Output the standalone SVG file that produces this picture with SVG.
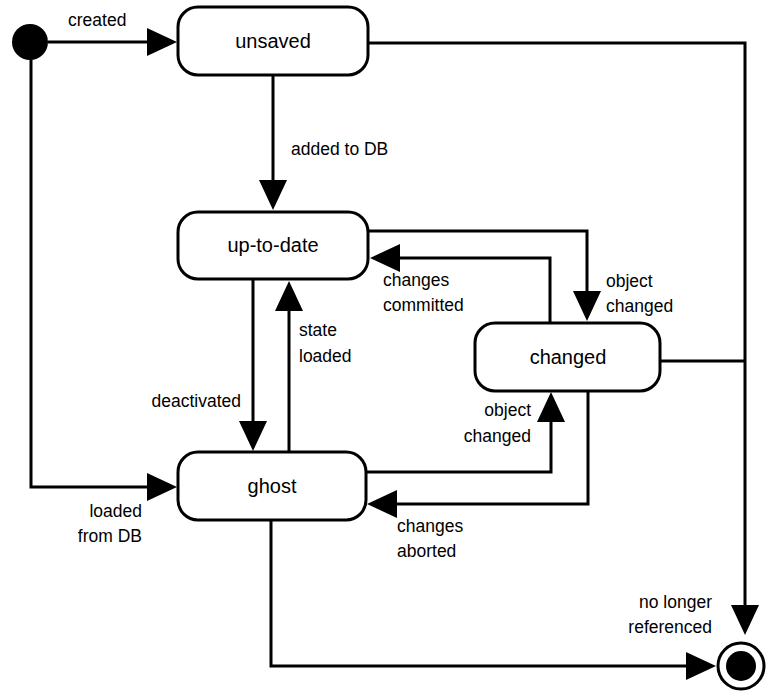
<svg xmlns="http://www.w3.org/2000/svg" width="767" height="696" viewBox="0 0 767 696">
  <style>
    .state rect { fill: #fff; stroke: #000; stroke-width: 3; }
    .state text { font-family: "Liberation Sans", Arial, sans-serif; font-size: 20px; text-anchor: middle; fill: #000; }
    .edge { fill: none; stroke: #000; stroke-width: 3; }
    .lbl { font-family: "Liberation Sans", Arial, sans-serif; font-size: 17.5px; fill: #000; }
    .end { text-anchor: end; }
  </style>
  <defs>
    <marker id="arrow" markerUnits="userSpaceOnUse" markerWidth="30" markerHeight="28" refX="0" refY="14" orient="auto" overflow="visible">
      <path d="M0,0 L30,14 L0,28 Z" fill="#000"/>
    </marker>
  </defs>

  <!-- transitions -->
  <g id="connectors">
    <path class="edge" d="M48,42 H147" marker-end="url(#arrow)"/>
    <path class="edge" d="M31,58 V487 H147" marker-end="url(#arrow)"/>
    <path class="edge" d="M368,43 H745 V605" marker-end="url(#arrow)"/>
    <path class="edge" d="M273,75 V180" marker-end="url(#arrow)"/>
    <path class="edge" d="M368,231 H587 V291" marker-end="url(#arrow)"/>
    <path class="edge" d="M550,323 V258 H400" marker-end="url(#arrow)"/>
    <path class="edge" d="M253,279 V421" marker-end="url(#arrow)"/>
    <path class="edge" d="M289,452 V311" marker-end="url(#arrow)"/>
    <path class="edge" d="M366,472 H551 V422" marker-end="url(#arrow)"/>
    <path class="edge" d="M588,391 V504 H397" marker-end="url(#arrow)"/>
    <path class="edge" d="M660,361 H745"/>
    <path class="edge" d="M271,520 V666 H686" marker-end="url(#arrow)"/>

    <text class="lbl" x="68" y="26">created</text>
    <text class="lbl" x="291" y="155">added to DB</text>
    <text class="lbl" x="383" y="286">changes</text>
    <text class="lbl" x="383" y="311">committed</text>
    <text class="lbl" x="606" y="287">object</text>
    <text class="lbl" x="606" y="312">changed</text>
    <text class="lbl" x="299" y="336">state</text>
    <text class="lbl" x="299" y="362">loaded</text>
    <text class="lbl end" x="241" y="407">deactivated</text>
    <text class="lbl end" x="531" y="416">object</text>
    <text class="lbl end" x="531" y="442">changed</text>
    <text class="lbl end" x="142" y="517">loaded</text>
    <text class="lbl end" x="142" y="542">from DB</text>
    <text class="lbl" x="397" y="532">changes</text>
    <text class="lbl" x="397" y="557">aborted</text>
    <text class="lbl end" x="712" y="608">no longer</text>
    <text class="lbl end" x="712" y="633">referenced</text>
  </g>

  <!-- pseudo states -->
  <g id="initial">
    <circle cx="30" cy="42" r="18" fill="#000"/>
  </g>
  <g id="final">
    <circle cx="741" cy="666" r="23" fill="#fff" stroke="#000" stroke-width="3"/>
    <circle cx="741" cy="666" r="15" fill="#000"/>
  </g>

  <!-- states -->
  <g id="unsaved" class="state">
    <rect x="178" y="7" width="190" height="68" rx="20" ry="20"/>
    <text x="273" y="48">unsaved</text>
  </g>
  <g id="up-to-date" class="state">
    <rect x="178" y="212" width="190" height="67" rx="20" ry="20"/>
    <text x="273" y="252">up-to-date</text>
  </g>
  <g id="changed" class="state">
    <rect x="475" y="323" width="185" height="68" rx="20" ry="20"/>
    <text x="568" y="364">changed</text>
  </g>
  <g id="ghost" class="state">
    <rect x="178" y="452" width="188" height="68" rx="20" ry="20"/>
    <text x="272" y="493">ghost</text>
  </g>
</svg>
